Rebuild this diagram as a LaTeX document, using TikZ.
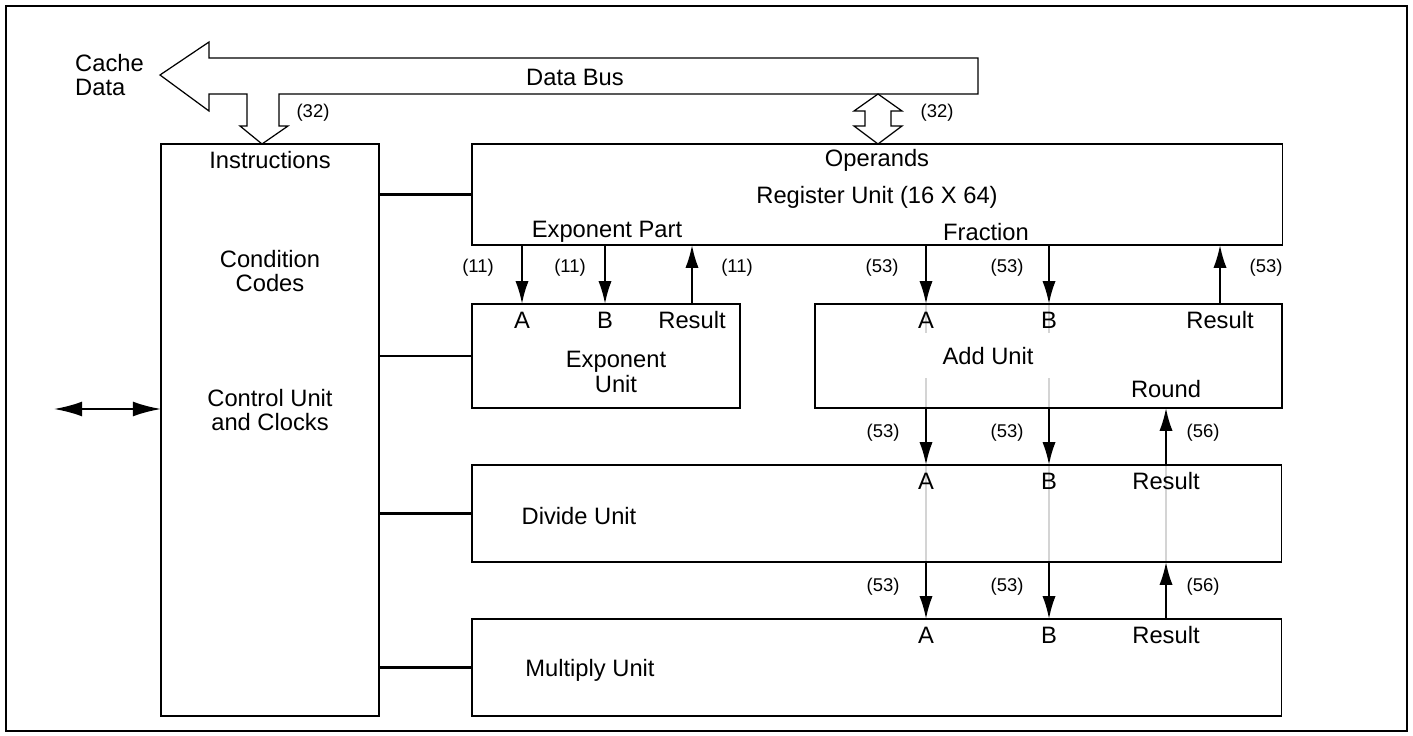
\documentclass[tikz,border=0pt]{standalone}
\usepackage{fontspec}
\setmainfont{Liberation Sans}
\usetikzlibrary{arrows.meta,positioning,backgrounds}

\begin{document}
\begin{tikzpicture}[x=0.02cm, y=-0.02cm, font=\fontsize{13.5}{13.8}\selectfont]
    % Define styles
    \tikzstyle{unit} = [draw, rectangle, anchor=north west, inner sep=0pt, outer sep=0pt, line width=0.7pt]
    \tikzstyle{bits} = [inner sep=0pt, font=\fontsize{10.5}{12}\selectfont]
    \tikzstyle{arrow} = [line width=1.2pt, -{Latex[length=13pt, width=7.5pt]}]
    \tikzstyle{link} = [line width=1.2pt]
    \tikzstyle{bus} = [draw, line width=0.7pt, fill=white, line join=miter]
    \tikzstyle{trace} = [line width=1.2pt, black!17]

    \useasboundingbox (0,0) rectangle (1413,736);
    \draw[line width=0.7pt] (6,6) rectangle (1407,731);

    % Boxes
    \node[unit, minimum width=4.36cm, minimum height=11.44cm] (ctrl) at (161,144) {};
    \node[unit, minimum width=16.22cm, minimum height=2.02cm] (regunit) at (472,144) {};
    \node[unit, minimum width=5.36cm, minimum height=2.08cm] (expunit) at (472,304) {};
    \node[unit, minimum width=9.34cm, minimum height=2.08cm] (addunit) at (815,304) {};
    \node[unit, minimum width=16.2cm, minimum height=1.94cm] (divunit) at (472,465) {};
    \node[unit, minimum width=16.2cm, minimum height=1.94cm] (mulunit) at (472,619) {};

    % Control unit text
    \node (instr) at (270,160) {Instructions};
    \node[align=center] (cond) at (270,271) {Condition\\Codes};
    \node[align=center] (clock) at (270,410) {Control Unit\\and Clocks};

    % Data bus
    \draw[bus] (160,75) -- (209,42) -- (209,58) -- (978,58) -- (978,94) -- (279,94)
        -- (279,126) -- (288,126) -- (262,144) -- (240,126) -- (247,126) -- (247,94)
        -- (209,94) -- (209,111) -- cycle;
    \draw[bus] (878,94) -- (902,111) -- (891,111) -- (891,126) -- (902,126) -- (878,144)
        -- (854,126) -- (865,126) -- (865,111) -- (854,111) -- cycle;
    \node[anchor=west, align=left] (cache) at (69,75) {Cache\\Data};
    \node (busname) at (575,77) {Data Bus};
    \node[bits] (instrw) at (313,113) {(32)};
    \node[bits] (opw) at (937,113) {(32)};

    % Register unit
    \node (operands) at (877,160) {Operands};
    \node (regname) at (877,197) {Register Unit (16 X 64)};
    \node (exppart) at (607,232) {Exponent Part};
    \node (frac) at (986,232) {Fraction};

    % Exponent unit
    \node (expA) at (522,320) {A};
    \node (expB) at (605,320) {B};
    \node (expRes) at (692,320) {Result};
    \node[align=center] (expname) at (616,372) {Exponent\\Unit};
    \node[bits] at (478,268) {(11)};
    \node[bits] at (570,268) {(11)};
    \node[bits] at (737,268) {(11)};

    % Add unit
    \node (addA) at (926,320) {A};
    \node (addB) at (1049,320) {B};
    \node (addRes) at (1220,320) {Result};
    \node (addname) at (988,356) {Add Unit};
    \node (round) at (1166,389) {Round};
    \node[bits] at (882,268) {(53)};
    \node[bits] at (1007,268) {(53)};
    \node[bits] at (1266,268) {(53)};

    % Divide unit
    \node (divA) at (926,481) {A};
    \node (divB) at (1049,481) {B};
    \node (divRes) at (1166,481) {Result};
    \node (divname) at (579,516) {Divide Unit};
    \node[bits] at (883,433) {(53)};
    \node[bits] at (1007,433) {(53)};
    \node[bits] at (1203,433) {(56)};

    % Multiply unit
    \node (mulA) at (926,635) {A};
    \node (mulB) at (1049,635) {B};
    \node (mulRes) at (1166,635) {Result};
    \node (mulname) at (590,670) {Multiply Unit};
    \node[bits] at (883,587) {(53)};
    \node[bits] at (1007,587) {(53)};
    \node[bits] at (1203,587) {(56)};

    % Pass-through traces
    \begin{scope}[on background layer]
        \draw[trace] (addA |- addunit.north) -- ++(0,29) (addA |- addunit.south) -- ++(0,-30);
        \draw[trace] (addB |- addunit.north) -- ++(0,29) (addB |- addunit.south) -- ++(0,-30);
        \draw[trace] (divA |- divunit.north) -- (divA |- divunit.south);
        \draw[trace] (divB |- divunit.north) -- (divB |- divunit.south);
        \draw[trace] (divRes |- divunit.north) -- (divRes |- divunit.south);
    \end{scope}

    % Arrows: exponent part
    \draw[arrow] (expA |- regunit.south) -- (expA |- expunit.north);
    \draw[arrow] (expB |- regunit.south) -- (expB |- expunit.north);
    \draw[arrow] (expRes |- expunit.north) -- (expRes |- regunit.south);

    % Arrows: fraction
    \draw[arrow] (addA |- regunit.south) -- (addA |- addunit.north);
    \draw[arrow] (addB |- regunit.south) -- (addB |- addunit.north);
    \draw[arrow] (addRes |- addunit.north) -- (addRes |- regunit.south);
    \draw[arrow] (divA |- addunit.south) -- (divA |- divunit.north);
    \draw[arrow] (divB |- addunit.south) -- (divB |- divunit.north);
    \draw[arrow] (round |- divunit.north) -- (round |- addunit.south);
    \draw[arrow] (mulA |- divunit.south) -- (mulA |- mulunit.north);
    \draw[arrow] (mulB |- divunit.south) -- (mulB |- mulunit.north);
    \draw[arrow] (mulRes |- mulunit.north) -- (mulRes |- divunit.south);

    % Links from control unit
    \draw[link] (ctrl.east |- regunit.west) -- (regunit.west);
    \draw[link] (ctrl.east |- expunit.west) -- (expunit.west);
    \draw[link] (ctrl.east |- divunit.west) -- (divunit.west);
    \draw[link] (ctrl.east |- mulunit.west) -- (mulunit.west);

    % External interface
    \coordinate (ext) at (54,409);
    \draw[link, {Latex[length=16pt, width=8.5pt]}-{Latex[length=16pt, width=8.5pt]}] (ext) -- (ext -| ctrl.west);
\end{tikzpicture}
\end{document}
